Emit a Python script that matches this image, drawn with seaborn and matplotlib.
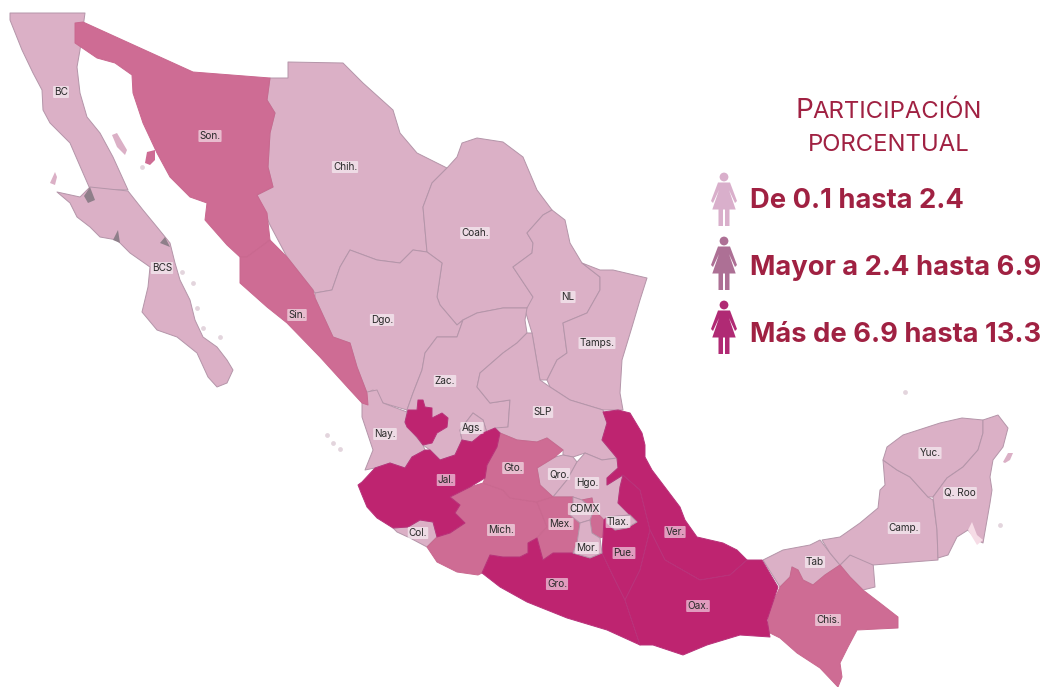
# Participacion porcentual por entidad federativa
import pandas as pd
import matplotlib.pyplot as plt
from matplotlib.patches import Polygon
import seaborn as sns

# Class of each state: 0 = De 0.1 hasta 2.4, 1 = Mayor a 2.4 hasta 6.9, 2 = Mas de 6.9 hasta 13.3
pale_states = ['BC', 'BCS', 'Chih', 'Coah', 'NL', 'Tamps', 'Dgo', 'Zac', 'SLP', 'Nay', 'Ags', 'Col', 'Qro',
               'Hgo', 'Tab', 'TabE', 'Camp', 'Yuc', 'QRoo']
medium_states = ['Son', 'Sin', 'Mich', 'Gto', 'Mex', 'MexE', 'Chis']
dark_states = ['JalN', 'Jal', 'Gro', 'Pue', 'Ver', 'Oax']
top_states = ['CDMX', 'Mor', 'Tlax']

# Outlines, in image pixels
BC = [(10,13),(85,13),(80,50),(77,67),(80,93),(87,117),(100,133),(113,157),(128,190),(90,189),(83,173),(70,143),(50,123),(43,110),(42,90),(33,73),(22,50),(10,20)]
BCS = [(57,192),(80,197),(90,187),(128,191),(143,210),(157,227),(170,243),(175,263),(180,280),(190,300),(195,320),(203,337),(217,347),(227,360),(233,370),(227,383),(217,387),(208,377),(197,353),(177,337),(157,330),(142,312),(148,287),(150,267),(130,253),(117,240),(100,237),(90,227),(77,217),(70,203)]
Son = [(75,23),(83,22),(193,72),(270,78),(267,100),(275,113),(270,133),(268,167),(273,187),(257,195),(267,213),(270,240),(247,257),(240,257),(227,245),(205,220),(207,203),(190,197),(170,177),(157,153),(143,123),(133,93),(132,75),(115,63),(97,58),(75,43)]
Sin = [(270,240),(287,257),(313,290),(315,298),(333,337),(350,343),(357,367),(367,393),(368,405),(362,403),(350,390),(320,357),(287,323),(267,307),(240,283),(240,257),(247,257)]
Chih = [(270,78),(288,78),(288,62),(343,63),(363,83),(393,110),(400,133),(417,153),(447,168),(432,183),(423,207),(427,252),(413,250),(400,263),(377,260),(350,250),(340,267),(332,290),(315,293),(313,290),(287,257),(270,225),(257,195),(273,187),(268,167),(270,133),(275,113),(267,100)]
Coah = [(447,168),(457,157),(462,143),(477,138),(503,142),(523,157),(537,190),(552,210),(543,215),(527,233),(533,243),(532,253),(513,267),(533,297),(543,308),(527,308),(503,308),(477,313),(463,320),(457,325),(440,305),(437,297),(442,263),(427,252),(423,207),(432,183)]
NL = [(543,215),(552,210),(565,220),(570,243),(582,263),(600,277),(600,290),(587,313),(563,323),(567,353),(557,360),(547,380),(540,380),(532,333),(525,310),(527,308),(533,297),(513,267),(532,253),(533,243),(527,233)]
Tamps = [(582,263),(600,270),(613,270),(647,278),(640,300),(632,327),(622,360),(620,393),(623,410),(603,410),(570,400),(550,387),(547,380),(557,360),(567,353),(563,323),(587,313),(600,290),(600,277)]
Dgo = [(315,293),(332,290),(340,267),(350,250),(377,260),(400,263),(413,250),(427,252),(442,263),(437,297),(440,305),(457,325),(463,320),(457,337),(437,337),(425,353),(422,370),(413,393),(407,410),(383,403),(373,390),(367,393),(357,367),(350,343),(333,337),(315,298)]
Zac = [(463,320),(477,313),(503,308),(527,308),(525,320),(527,333),(517,343),(503,353),(480,373),(477,387),(490,403),(510,400),(508,427),(505,428),(487,433),(483,420),(473,413),(460,430),(462,440),(455,455),(440,460),(430,450),(423,445),(405,423),(407,410),(413,393),(422,370),(425,353),(437,337),(457,337)]
SLP = [(527,333),(532,333),(540,380),(550,387),(570,400),(603,410),(607,423),(602,440),(617,458),(602,460),(585,453),(573,457),(563,455),(563,450),(547,438),(537,442),(517,440),(500,433),(495,428),(508,427),(510,400),(490,403),(477,387),(480,373),(503,353),(517,343)]
Nay = [(362,393),(377,390),(383,403),(407,412),(405,423),(423,445),(425,450),(412,457),(405,468),(390,463),(375,468),(365,470),(373,450),(362,417)]
Ags = [(460,430),(473,413),(483,420),(487,433),(472,442),(462,440)]
JalN = [(405,422),(408,410),(417,410),(418,400),(423,400),(425,407),(432,408),(432,418),(442,413),(448,418),(447,427),(437,433),(432,443),(423,445),(417,437),(407,427)]
Jal = [(358,485),(362,482),(375,468),(390,463),(405,468),(412,457),(425,450),(430,450),(440,460),(455,455),(462,440),(472,442),(483,433),(495,428),(500,433),(497,447),(487,465),(485,478),(470,487),(450,497),(460,505),(455,513),(465,523),(450,533),(437,537),(433,522),(420,520),(408,527),(393,528),(377,518),(367,507),(362,495)]
Col = [(393,528),(408,527),(420,520),(433,522),(437,537),(427,547),(410,538),(397,532)]
Mich = [(427,547),(437,537),(450,533),(465,523),(455,513),(460,505),(450,497),(470,487),(483,483),(503,490),(510,498),(537,502),(547,527),(537,538),(528,543),(528,553),(520,557),(503,557),(490,555),(482,573),(478,575),(457,572),(437,562)]
Gto = [(485,478),(487,465),(497,447),(500,433),(517,440),(537,442),(547,438),(563,450),(555,457),(537,468),(540,485),(553,497),(537,502),(510,498),(503,490),(483,483)]
Qro = [(537,468),(555,457),(563,455),(573,457),(577,462),(567,480),(553,497),(540,485)]
Hgo = [(567,480),(577,462),(585,453),(602,460),(617,458),(618,468),(607,478),(607,485),(623,475),(620,487),(618,503),(630,515),(607,517),(604,520),(594,510),(592,498),(582,500),(573,497),(553,497)]
Mex = [(537,502),(553,497),(573,497),(573,507),(570,515),(580,523),(577,543),(573,553),(567,553),(553,553),(543,560),(537,538),(547,527)]
MexE = [(582,500),(592,498),(594,510),(604,520),(603,537),(600,538),(592,533),(590,520),(580,523)]
CDMX = [(573,497),(582,500),(594,510),(590,520),(580,523),(570,515),(573,507)]
Mor = [(580,523),(590,520),(592,533),(600,538),(602,553),(590,558),(573,553),(577,543)]
Tlax = [(607,517),(630,515),(637,522),(627,528),(615,530),(607,523)]
Gro = [(482,573),(490,555),(503,557),(520,557),(528,553),(528,543),(537,538),(543,560),(553,553),(567,553),(573,553),(590,558),(602,553),(615,580),(625,600),(640,645),(607,630),(567,618),(527,602),(500,587)]
Pue = [(602,553),(603,537),(604,520),(607,517),(607,523),(615,530),(627,528),(637,522),(630,515),(618,503),(620,487),(623,475),(640,490),(650,530),(640,570),(625,600),(615,580)]
Ver = [(603,412),(618,410),(630,413),(642,433),(645,445),(645,457),(652,470),(680,507),(685,520),(697,537),(723,543),(737,550),(747,560),(730,575),(700,580),(665,560),(650,530),(640,490),(623,475),(607,485),(607,478),(618,468),(617,458),(602,440),(607,423)]
Oax = [(625,600),(640,570),(650,530),(665,560),(700,580),(730,575),(747,560),(762,560),(778,587),(767,620),(770,637),(740,635),(707,645),(683,655),(653,645),(640,645)]
Chis = [(792,567),(798,570),(803,580),(813,585),(825,575),(840,565),(850,577),(863,590),(880,603),(898,617),(898,628),(857,630),(848,647),(840,663),(842,677),(838,687),(820,668),(797,653),(780,638),(768,632),(768,613),(780,587),(790,577)]
Tab = [(763,560),(783,550),(810,545),(820,540),(830,553),(840,565),(825,575),(813,585),(803,580),(798,570),(792,567),(790,577),(780,587)]
TabE = [(850,555),(873,562),(875,587),(863,590),(850,577),(840,565)]
Camp = [(822,540),(840,537),(860,523),(878,508),(880,490),(885,485),(883,460),(897,470),(910,477),(928,497),(933,500),(937,530),(938,560),(873,565),(850,555),(840,565),(830,553)]
Yuc = [(883,460),(887,447),(903,435),(940,423),(962,418),(983,420),(983,433),(978,450),(963,467),(947,478),(933,497),(928,497),(910,477),(897,470)]
QRoo = [(983,420),(998,415),(1008,428),(1003,447),(993,460),(990,477),(992,490),(990,503),(983,543),(977,540),(968,530),(957,537),(948,555),(938,558),(937,530),(933,497),(947,478),(963,467),(978,450),(983,433)]

outlines = {'BC': BC, 'BCS': BCS, 'Son': Son, 'Sin': Sin, 'Chih': Chih, 'Coah': Coah, 'NL': NL, 'Tamps': Tamps,
            'Dgo': Dgo, 'Zac': Zac, 'SLP': SLP, 'Nay': Nay, 'Ags': Ags, 'JalN': JalN, 'Jal': Jal, 'Col': Col,
            'Mich': Mich, 'Gto': Gto, 'Qro': Qro, 'Hgo': Hgo, 'Mex': Mex, 'MexE': MexE, 'CDMX': CDMX, 'Mor': Mor,
            'Tlax': Tlax, 'Gro': Gro, 'Pue': Pue, 'Ver': Ver, 'Oax': Oax, 'Chis': Chis, 'Tab': Tab, 'TabE': TabE,
            'Camp': Camp, 'Yuc': Yuc, 'QRoo': QRoo}

# Islands and small water bodies
islands_pale = [[(112,135),(117,133),(127,150),(125,155),(117,147)],
                [(50,183),(55,172),(57,177),(55,185)],
                [(1003,462),(1008,453),(1013,453),(1010,460),(1005,463)]]
islands_medium = [[(145,163),(147,152),(155,150),(155,160),(150,165)]]
lagoons = [[(84,196),(90,187),(95,200),(88,203)], [(113,240),(118,230),(120,243)], [(160,243),(165,237),(170,247)]]
pink_spot = [(968,530),(972,522),(977,535),(983,540),(977,545)]
speck_x = [327, 333, 340, 142, 182, 193, 197, 203, 220, 905, 1000]
speck_y = [435, 443, 449, 167, 272, 283, 308, 328, 337, 392, 525]

# State labels
label_text = ['BC', 'Son.', 'Chih.', 'Coah.', 'BCS', 'NL', 'Tamps.', 'Dgo.', 'Sin.', 'Zac.', 'SLP', 'Nay.', 'Ags.',
              'Gto.', 'Qro.', 'Hgo.', 'Jal.', 'Mich.', 'Col.', 'Mex.', 'CDMX', 'Tlax.', 'Mor.', 'Pue.', 'Gro.',
              'Ver.', 'Oax.', 'Tab', 'Chis.', 'Camp.', 'Yuc.', 'Q. Roo']
label_x = [61, 210, 345, 475, 162, 568, 597, 382, 297, 445, 543, 385, 472, 513, 559, 587, 446, 501, 418, 561, 584,
           618, 587, 624, 557, 675, 698, 815, 828, 904, 930, 960]
label_y = [92, 136, 167, 233, 268, 297, 343, 320, 315, 381, 412, 434, 428, 468, 474, 483, 480, 530, 533, 524, 509,
           522, 548, 553, 584, 532, 606, 562, 620, 528, 453, 493]

# Legend
legend_title = ['P', 'ARTICIPACIÓN', 'PORCENTUAL']
legend_labels = ['De 0.1 hasta 2.4', 'Mayor a 2.4 hasta 6.9', 'Más de 6.9 hasta 13.3']
head_y = [177, 241, 305]
baseline_y = [208, 275, 342]
# woman icon, relative to the centre of the head
icon_body = [(-6,5.5),(6,5.5),(13,24),(11,26),(5,13),(11.7,32.5),(5.5,32.5),(5.5,49),(1,49),(1,32.5),(-1,32.5),(-1,49),(-5.5,49),(-5.5,32.5),(-11.7,32.5),(-5,13),(-11,26),(-13,24)]

sns.set_theme(style='white')
plt.rcParams['font.family'] = ['Inter', 'DejaVu Sans']

map_colors = sns.color_palette(['#DBB0C6', '#CE6C94', '#BE2470'])
edge_colors = ['#B495A9', '#C9688F', '#B8327A']
icon_colors = ['#D9AFCB', '#AD7095', '#B02A74']
text_color = '#A02142'

fig, ax = plt.subplots(figsize=(10.44, 6.87), dpi=100)
fig.subplots_adjust(left=0, right=1, bottom=0, top=1)
ax.set_xlim(0, 1044)
ax.set_ylim(687, 0)

# States, one class after the other
groups = [(pale_states, 0), (medium_states, 1), (dark_states, 2), (top_states, 0)]
z = 1
for names, cls in groups:
    for name in names:
        ax.add_patch(Polygon(outlines[name], closed=True, facecolor=map_colors[cls], edgecolor=edge_colors[cls],
                             linewidth=0.7, joinstyle='round', zorder=z))
    z += 1

for shape in islands_pale:
    ax.add_patch(Polygon(shape, closed=True, facecolor=map_colors[0], edgecolor='none', zorder=1))
for shape in islands_medium:
    ax.add_patch(Polygon(shape, closed=True, facecolor=map_colors[1], edgecolor='none', zorder=1))
for shape in lagoons:
    ax.add_patch(Polygon(shape, closed=True, facecolor='#8F7F8A', edgecolor='none', zorder=5))
ax.add_patch(Polygon(pink_spot, closed=True, facecolor='#F6DCE6', edgecolor='none', zorder=5))

specks = pd.DataFrame({'x': speck_x, 'y': speck_y})
sns.scatterplot(data=specks, x='x', y='y', color='#E3D5DD', s=12, linewidth=0, ax=ax, zorder=1)

# State names on a light halo
for text, x, y in zip(label_text, label_x, label_y):
    ax.text(x, y, text, fontsize=7.2, color='#2A2A2A', ha='center', va='center', zorder=8,
            bbox=dict(boxstyle='round,pad=0.1', facecolor='white', edgecolor='none', alpha=0.55))

# Legend title, small caps
ax.text(795, 118.5, legend_title[0], fontsize=20, color=text_color, ha='left', va='baseline')
ax.text(812, 118.5, legend_title[1], fontsize=17.2, color=text_color, ha='left', va='baseline')
ax.text(888.5, 151, legend_title[2], fontsize=17.2, color=text_color, ha='center', va='baseline')

# Legend entries with the woman icons
heads = pd.DataFrame({'x': [724] * 3, 'y': head_y, 'label': legend_labels})
sns.scatterplot(data=heads, x='x', y='y', hue='label', palette=icon_colors, s=40, linewidth=0, legend=False, ax=ax, zorder=6)
for hy, by, label, color in zip(head_y, baseline_y, legend_labels, icon_colors):
    ax.add_patch(Polygon([(724 + dx, hy + dy) for dx, dy in icon_body], closed=True, facecolor=color, edgecolor='none', zorder=6))
    ax.text(750, by, label, fontsize=19.7, color=text_color, ha='left', va='baseline', fontweight='bold')

ax.set_xlabel('')
ax.set_ylabel('')
ax.set_xticks([])
ax.set_yticks([])
sns.despine(ax=ax, left=True, bottom=True)

fig.savefig('out.png', dpi=100)
